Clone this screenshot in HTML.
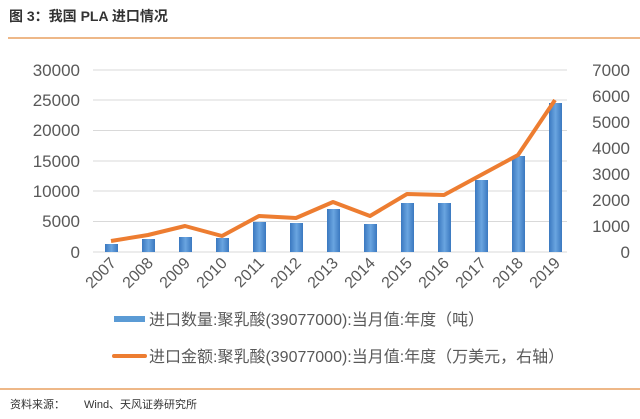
<!DOCTYPE html>
<html><head><meta charset="utf-8"><style>
body{margin:0;background:#fff;width:640px;height:414px;overflow:hidden}
text{font-family:"Liberation Sans","Noto Sans CJK SC",sans-serif}
</style></head><body>
<svg width="640" height="414" xmlns="http://www.w3.org/2000/svg">
<defs><linearGradient id="g" x1="0" x2="1" y1="0" y2="0">
<stop offset="0" stop-color="#3a78c0"/><stop offset="0.5" stop-color="#6aa5e0"/><stop offset="1" stop-color="#3a78c0"/></linearGradient></defs>
<text x="9" y="21" font-size="14" font-weight="bold" fill="#333">图 3：我国 PLA 进口情况</text>
<line x1="8" y1="38" x2="640" y2="38" stroke="#e8a060" stroke-width="1.5"/>
<g stroke="#d9d9d9" stroke-width="1">
<line x1="93" y1="70" x2="567" y2="70"/><line x1="93" y1="100" x2="567" y2="100"/><line x1="93" y1="130.5" x2="567" y2="130.5"/>
<line x1="93" y1="161" x2="567" y2="161"/><line x1="93" y1="191" x2="567" y2="191"/>
<line x1="93" y1="221.5" x2="567" y2="221.5"/><line x1="93" y1="252" x2="567" y2="252"/>
</g>
<g font-size="17" fill="#595959" text-anchor="end">
<text x="80" y="76">30000</text><text x="80" y="106">25000</text><text x="80" y="136">20000</text>
<text x="80" y="167">15000</text><text x="80" y="197">10000</text><text x="80" y="227">5000</text>
<text x="80" y="258">0</text>
</g>
<g font-size="17" fill="#595959" text-anchor="end">
<text x="630" y="76">7000</text><text x="630" y="102">6000</text><text x="630" y="128">5000</text>
<text x="630" y="154">4000</text><text x="630" y="180">3000</text><text x="630" y="206">2000</text>
<text x="630" y="232">1000</text><text x="630" y="258">0</text>
</g>
<g fill="url(#g)">
<rect x="105" y="244" width="13" height="8"/>
<rect x="142" y="239" width="13" height="13"/>
<rect x="179" y="237" width="13" height="15"/>
<rect x="216" y="238" width="13" height="14"/>
<rect x="253" y="222" width="13" height="30"/>
<rect x="290" y="223" width="13" height="29"/>
<rect x="327" y="209" width="13" height="43"/>
<rect x="364" y="224" width="13" height="28"/>
<rect x="401" y="203" width="13" height="49"/>
<rect x="438" y="203" width="13" height="49"/>
<rect x="475" y="180" width="13" height="72"/>
<rect x="512" y="156" width="13" height="96"/>
<rect x="549" y="103" width="13" height="149"/>
</g>
<polyline fill="none" stroke="#ed7d31" stroke-width="4" stroke-linejoin="round" points="111,241 148,235 185,226 222,236 259,216 296,218 333,202 370,216 407,194 444,195 481,175 518,155 555,100"/>
<g font-size="16" fill="#595959" text-anchor="end">
<text transform="translate(117,264) rotate(-45)">2007</text>
<text transform="translate(154,264) rotate(-45)">2008</text>
<text transform="translate(191,264) rotate(-45)">2009</text>
<text transform="translate(228,264) rotate(-45)">2010</text>
<text transform="translate(265,264) rotate(-45)">2011</text>
<text transform="translate(302,264) rotate(-45)">2012</text>
<text transform="translate(339,264) rotate(-45)">2013</text>
<text transform="translate(376,264) rotate(-45)">2014</text>
<text transform="translate(413,264) rotate(-45)">2015</text>
<text transform="translate(450,264) rotate(-45)">2016</text>
<text transform="translate(487,264) rotate(-45)">2017</text>
<text transform="translate(524,264) rotate(-45)">2018</text>
<text transform="translate(561,264) rotate(-45)">2019</text>
</g>
<rect x="114" y="316" width="31" height="6" fill="#5b9bd5"/>
<text x="149" y="325" font-size="16" fill="#595959">进口数量:聚乳酸(39077000):当月值:年度（吨）</text>
<line x1="114" y1="356" x2="145" y2="356" stroke="#ed7d31" stroke-width="4" stroke-linecap="round"/>
<text x="149" y="362" font-size="16" fill="#595959">进口金额:聚乳酸(39077000):当月值:年度（万美元，右轴）</text>
<line x1="0" y1="389" x2="640" y2="389" stroke="#e8a060" stroke-width="1.5"/>
<text x="10" y="408" font-size="11" fill="#333">资料来源：</text>
<text x="84" y="408" font-size="11" fill="#333">Wind、天风证券研究所</text>
</svg>
</body></html>
